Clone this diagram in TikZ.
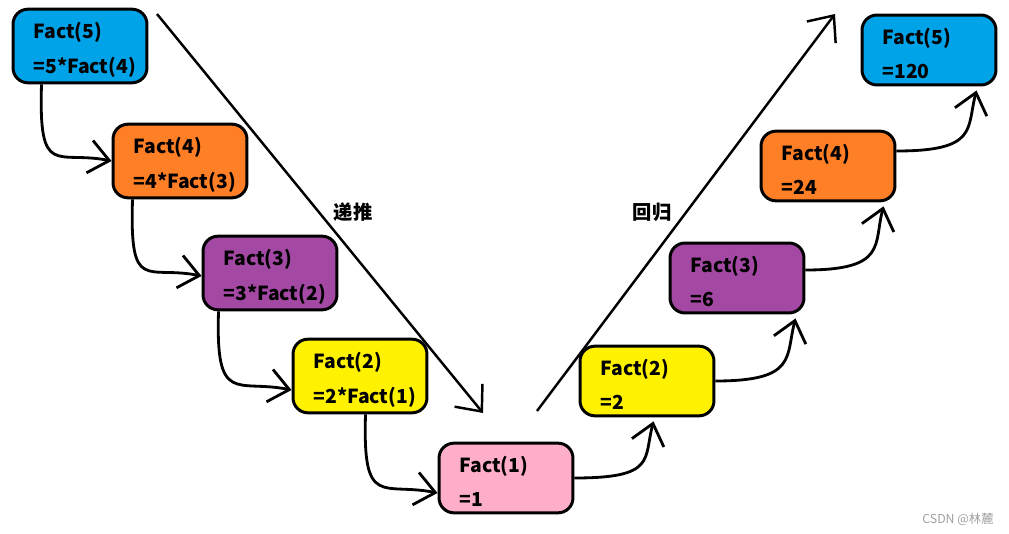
\documentclass[tikz,border=0pt]{standalone}
\usepackage{fontspec}
\setmainfont{Noto Sans CJK SC}
\usetikzlibrary{arrows.meta,calc}
\definecolor{pblue}{RGB}{0,162,232}
\definecolor{porange}{RGB}{255,127,39}
\definecolor{ppurple}{RGB}{163,73,164}
\definecolor{pyellow}{RGB}{255,242,0}
\definecolor{ppink}{RGB}{255,174,201}
\tikzset{
  factbox/.style={draw=black, line width=1.7pt, rounded corners=0.3cm,
                  minimum height=1.36cm, text width=1.86cm, inner xsep=0.41cm,
                  text height=13.5pt, align=left,
                  font=\bfseries\fontsize{11}{19.5}\selectfont},
  chainarr/.style={-{Straight Barb[length=0.4cm, width=0.66cm]}, line width=1.6pt},
  bigarr/.style={-{Straight Barb[length=0.42cm, width=0.72cm]}, line width=1.4pt},
  dirlab/.style={font=\bfseries\fontsize{11}{13}\selectfont},
  wmark/.style={font=\fontsize{7}{8}\selectfont, text=gray!75},
}

\begin{document}
\begin{tikzpicture}[x=0.02cm, y=-0.02cm]
    \useasboundingbox (0,0) rectangle (1009,534);
    % descending side
    \node[factbox, fill=pblue]   (L5) at (80,46)    {Fact(5)\\=5*Fact(4)};
    \node[factbox, fill=porange] (L4) at (180,161)  {Fact(4)\\=4*Fact(3)};
    \node[factbox, fill=ppurple] (L3) at (270,273)  {Fact(3)\\=3*Fact(2)};
    \node[factbox, fill=pyellow] (L2) at (360,376)  {Fact(2)\\=2*Fact(1)};
    \node[factbox, fill=ppink]   (F1) at (506,478)  {Fact(1)\\=1};
    % returning side
    \node[factbox, fill=pyellow] (R2) at (647,381)  {Fact(2)\\=2};
    \node[factbox, fill=ppurple] (R3) at (737,278)  {Fact(3)\\=6};
    \node[factbox, fill=porange] (R4) at (828,166)  {Fact(4)\\=24};
    \node[factbox, fill=pblue]   (R5) at (929,50)   {Fact(5)\\=120};
    \foreach \a/\b/\sx/\ey in {L5/L4/30/0, L4/L3/21/3, L3/L2/17/14, L2/F1/74/15}
      \draw[chainarr] ($(\a.south west)+(\sx,0)$) .. controls +(-3,95) and +(-55,-11) .. ($(\b.west)+(0,\ey)$);
    \foreach \a/\b/\sy/\ex in {F1/R2/0/75, R2/R3/0/127, R3/R4/-8/124, R4/R5/-15/116}
      \draw[chainarr] ($(\a.east)+(0,\sy)$) .. controls +(82,0) and +(-10,38) .. ($(\b.south west)+(\ex,4)$);
    % big arrows
    \coordinate (d0) at (157,14);  \coordinate (d1) at (483,413);
    \coordinate (u0) at (537,411); \coordinate (u1) at (835,14);
    \draw[bigarr] (d0) -- (d1);
    \draw[bigarr] (u0) -- (u1);
    \node[dirlab] (down) at (353,212) {递推};
    \node[dirlab] (back) at (652,212) {回归};
    \node[wmark] (wm) at (958,519) {CSDN @林麓};
\end{tikzpicture}
\end{document}
